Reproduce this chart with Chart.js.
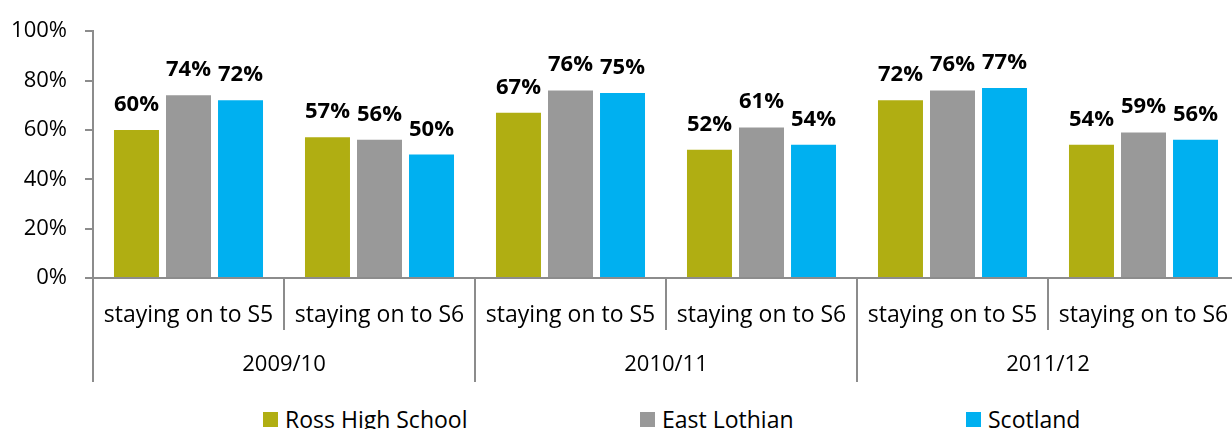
<!DOCTYPE html>
<html>
<head>
<meta charset="utf-8">
<script src="https://cdn.jsdelivr.net/npm/chart.js@4"></script>
<style>
  html, body { margin: 0; padding: 0; background: #fff; overflow: hidden; }
  #wrap { position: relative; width: 1240px; height: 390px; }
  #legend { position: relative; width: 1232px; height: 39px; font-family: "Open Sans", sans-serif; font-size: 23px; color: #000; }
  .item { position: absolute; top: 17px; display: flex; align-items: center; white-space: nowrap; line-height: 24px; }
  .swatch { width: 15px; height: 15px; margin-right: 7px; }
</style>
</head>
<body>
<div id="wrap"><canvas id="chart"></canvas></div>
<div id="legend"></div>
<script>
'use strict'

const years = ['2009/10', '2010/11', '2011/12'];
const stages = ['staying on to S5', 'staying on to S6'];
const seriesNames = ['Ross High School', 'East Lothian', 'Scotland'];
const rossHigh = [60, 57, 67, 52, 72, 54];
const eastLothian = [74, 56, 76, 61, 76, 59];
const scotland = [72, 50, 75, 54, 77, 56];

const colors = ['#b0ae12', '#999999', '#00b0f0'];
const axisGrey = '#8c8c8c';
const font = '"Open Sans", sans-serif';

// one category per stage within each year
const categories = years.flatMap(() => stages);

// percentages printed above each bar
const barValueLabels = {
    id: 'barValueLabels',
    afterDatasetsDraw(chart) {
        const ctx = chart.ctx;
        ctx.save();
        ctx.font = 'bold 22px ' + font;
        ctx.fillStyle = '#000';
        ctx.textAlign = 'center';
        ctx.textBaseline = 'alphabetic';
        chart.data.datasets.forEach((ds, i) => {
            chart.getDatasetMeta(i).data.forEach((bar, j) => {
                ctx.fillText(ds.data[j] + '%', bar.x, bar.y - 19);
            });
        });
        ctx.restore();
    }
};

const config = {
    type: 'bar',
    data: {
        labels: categories,
        datasets: [rossHigh, eastLothian, scotland].map((values, i) => ({
            label: seriesNames[i],
            data: values,
            backgroundColor: colors[i],
            categoryPercentage: 0.817,
            barPercentage: 0.865
        }))
    },
    options: {
        responsive: true,
        maintainAspectRatio: false,
        animation: false,
        layout: { padding: { top: 24, right: 1, bottom: 8, left: 0 } },
        plugins: {
            legend: { display: false },
            tooltip: { enabled: false }
        },
        scales: {
            x: {
                weight: 0,
                offset: true,
                grid: { offset: true, drawOnChartArea: false, tickLength: 52, color: axisGrey, lineWidth: 2 },
                border: { color: axisGrey, width: 2 },
                ticks: { padding: -28, autoSkip: false, maxRotation: 0, color: '#000', font: { family: font, size: 23 } },
                afterFit(scale) { scale.height = 52; }
            },
            x2: {
                type: 'category',
                labels: years,
                position: 'bottom',
                weight: 1,
                offset: true,
                grid: { offset: true, drawOnChartArea: false, tickLength: 52, color: axisGrey, lineWidth: 2 },
                border: { display: false },
                ticks: { padding: -30, autoSkip: false, maxRotation: 0, color: '#000', font: { family: font, size: 22 } },
                afterFit(scale) { scale.height = 52; }
            },
            y: {
                min: 0,
                max: 100,
                grid: { drawOnChartArea: false, tickLength: 8, color: axisGrey, lineWidth: 2 },
                border: { color: axisGrey, width: 2 },
                ticks: {
                    stepSize: 20,
                    padding: 18,
                    color: '#000',
                    font: { family: font, size: 22 },
                    callback: v => v + '%'
                },
                afterFit(scale) { scale.width = 93; }
            }
        }
    },
    plugins: [barValueLabels]
};

document.addEventListener('DOMContentLoaded', function() {
    new Chart(document.getElementById('chart').getContext('2d'), config);

    // legend row under the chart
    const legend = document.getElementById('legend');
    const lefts = [263, 640, 966];
    seriesNames.forEach((name, i) => {
        const item = document.createElement('div');
        item.className = 'item';
        item.style.left = lefts[i] + 'px';
        const sw = document.createElement('span');
        sw.className = 'swatch';
        sw.style.background = colors[i];
        item.appendChild(sw);
        item.appendChild(document.createTextNode(name));
        legend.appendChild(item);
    });
});
</script>
</body>
</html>
